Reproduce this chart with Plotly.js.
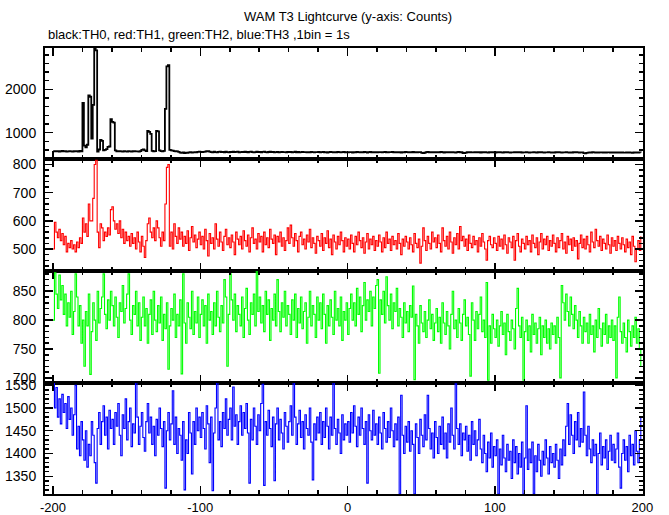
<!DOCTYPE html>
<html>
<head>
<meta charset="utf-8">
<script src="https://cdn.plot.ly/plotly-3.0.1.min.js"></script>
<style>html,body{margin:0;padding:0;background:#fff;}#chart{width:669px;height:515px;}</style>
</head>
<body>
<div id="chart"></div>
<script>
// Light-curve bins: start time (s) and bin width (1 bin = 1 s)
const T_START = -200;
const BIN_WIDTH = 1;

// TH0 (black) counts per bin
const TH0 = [
566,572,568,575,563,570,578,566,571,560,568,575,569,562,573,567,571,564,577,569,
1690,700,660,720,1860,1830,860,1640,2950,2900,560,610,830,810,590,600,620,670,680,1310,
1250,1230,590,570,565,575,568,562,570,566,560,572,568,564,570,575,566,569,563,571,
600,610,590,575,1040,1020,970,580,570,575,1040,1030,590,575,570,580,1550,2530,2560,600,
590,585,575,570,565,555,540,535,545,530,540,535,545,550,540,545,550,545,555,560,
555,548,556,562,570,575,560,552,546,558,550,543,555,561,549,553,547,558,552,545,
556,550,562,548,554,559,545,551,557,549,560,553,546,555,561,550,544,552,558,549,
553,547,556,562,550,545,553,559,548,554,546,551,557,543,550,555,548,552,546,554,
549,556,545,551,558,547,553,542,550,555,548,552,544,551,547,556,549,543,552,548,
554,546,551,557,545,550,541,548,555,549,544,552,547,556,550,543,549,553,546,551,
545,552,548,540,551,547,555,549,543,550,546,553,548,541,549,555,547,551,544,550,
546,552,548,543,550,556,547,542,551,548,553,545,549,544,552,547,541,550,546,553,
548,543,551,547,554,546,550,544,549,552,532,528,535,548,553,546,550,544,551,547,
543,550,546,553,548,541,549,545,552,547,543,550,546,540,548,553,545,549,530,528,
536,548,544,551,546,542,549,545,552,547,541,548,544,550,545,540,547,543,549,545,
541,548,544,550,546,539,547,543,549,545,540,546,542,548,544,550,543,547,541,546,
542,548,544,539,546,542,548,545,540,547,543,549,544,540,546,542,548,543,539,545,
541,547,543,548,544,540,546,542,547,543,539,545,541,547,543,548,544,540,546,542,
528,524,532,540,545,541,547,543,539,545,541,546,542,538,544,540,546,542,537,543,
539,545,541,536,543,539,545,540,536,542,538,544,540,535,541,537,543,539,545,541
];

// TH1 (red)
const TH1 = [
500,595,560,540,570,530,555,515,545,490,520,505,530,500,515,490,525,505,540,520,
610,560,590,545,660,600,600,680,800,815,560,505,590,575,530,560,545,575,550,640,
650,600,570,590,555,600,540,570,520,560,530,545,510,555,520,540,500,560,525,490,
545,510,470,530,590,610,560,540,575,530,600,575,540,510,560,530,660,790,800,510,
560,500,590,545,520,575,535,560,510,545,520,565,495,540,580,525,550,505,535,560,
515,545,500,570,530,475,555,520,540,500,590,535,510,560,525,495,545,570,515,540,
505,550,525,480,560,535,515,545,500,565,530,510,550,490,540,575,520,535,500,555,
525,545,490,560,515,540,505,570,535,520,550,480,545,525,560,510,540,495,530,575,
520,585,540,510,555,530,490,545,560,515,535,500,550,525,570,505,540,520,485,545,
530,510,555,495,540,520,565,505,535,480,550,525,500,545,515,560,530,490,540,510,
535,500,550,520,490,545,515,560,530,505,540,485,525,555,500,535,515,545,495,530,
510,550,525,490,540,505,560,520,535,495,545,515,530,500,555,520,480,535,510,545,
525,500,540,515,490,555,520,505,535,450,510,575,530,495,545,520,500,560,525,540,
505,550,520,490,575,530,510,545,500,560,525,485,540,515,555,500,580,530,545,510,
535,495,550,520,505,545,515,530,490,540,510,555,525,500,460,530,545,515,505,540,
520,495,545,510,535,500,550,515,485,540,525,505,545,460,530,555,510,490,535,520,
500,545,515,530,490,550,520,505,540,480,525,555,500,535,515,545,495,530,510,550,
520,490,540,505,530,555,500,525,485,545,515,535,495,540,510,530,465,520,550,505,
535,500,545,515,490,560,525,505,570,530,510,545,495,535,520,500,550,515,485,540,
510,530,495,545,520,500,540,515,490,535,505,525,480,545,510,455,500,530,495,545
];

// TH2 (green)
const TH2 = [
800,882,845,820,878,835,860,810,845,790,830,805,850,775,815,880,840,790,825,760,
800,720,815,790,845,706,780,830,800,765,850,795,820,840,880,810,785,835,800,850,
825,790,840,805,770,830,815,860,795,820,845,880,800,775,825,810,850,790,830,765,
805,840,790,820,760,810,835,775,850,800,780,825,795,840,765,810,785,830,715,790,
820,800,845,770,810,790,835,707,880,795,760,830,805,785,850,775,815,795,840,770,
810,835,790,825,760,845,800,815,775,830,790,850,805,780,825,795,870,840,720,810,
880,835,800,845,780,825,810,790,840,770,820,855,800,775,830,810,845,790,886,815,
840,795,825,780,850,810,835,765,820,800,845,790,870,815,780,830,805,850,790,825,
810,775,835,800,845,770,820,795,840,785,815,830,760,805,850,790,825,810,770,840,
800,830,785,845,810,760,825,790,835,805,775,850,800,820,790,840,765,815,800,830,
775,820,845,800,830,790,855,810,840,780,825,865,800,835,815,850,790,840,820,860,
870,708,835,810,850,795,875,825,800,845,785,830,815,855,790,820,805,770,830,795,
815,780,825,805,859,697,810,790,760,825,795,780,815,770,800,835,785,810,765,795,
820,780,805,760,830,795,775,815,790,750,810,850,785,800,770,820,795,765,810,835,
790,805,775,703,830,800,765,815,785,810,840,780,800,770,865,696,790,760,810,785,
770,800,755,790,815,775,795,740,810,780,765,800,785,750,820,855,790,770,805,696,
780,800,765,790,745,810,775,795,760,785,805,740,790,770,800,760,785,750,795,775,
790,760,805,770,700,860,830,800,845,815,790,840,810,785,825,800,770,815,790,760,
805,780,795,760,810,775,790,745,800,770,820,785,755,795,775,810,760,790,770,800,
765,790,700,805,840,780,760,795,770,745,800,780,755,790,770,805,760,785,750,720
];

// TH3 (blue)
const TH3 = [
1557,1500,1545,1480,1520,1465,1530,1490,1510,1455,1525,1475,1500,1440,1485,1550,1410,1460,1395,1470,
1430,1385,1450,1370,1420,1395,1470,1440,1380,1335,1455,1490,1420,1470,1505,1440,1480,1410,1495,1455,
1475,1420,1490,1460,1510,1440,1395,1485,1455,1520,1430,1470,1500,1415,1465,1445,1557,1480,1420,1460,
1490,1435,1405,1470,1510,1445,1480,1420,1460,1395,1475,1440,1500,1455,1415,1470,1324,1450,1490,1430,
1465,1538,1420,1480,1400,1455,1440,1385,1470,1320,1430,1400,1490,1445,1355,1470,1420,1500,1450,1480,
1435,1490,1455,1410,1505,1465,1380,1480,1318,1445,1500,1557,1430,1470,1415,1490,1455,1520,1440,1475,
1500,1430,1546,1460,1485,1420,1470,1505,1440,1490,1455,1510,1445,1335,1475,1430,1500,1460,1420,1485,
1450,1510,1552,1330,1470,1440,1495,1455,1415,1480,1340,1465,1500,1430,1475,1445,1410,1490,1460,1425,
1470,1505,1440,1557,1480,1420,1465,1495,1435,1470,1410,1485,1455,1440,1500,1425,1342,1465,1430,1480,
1445,1490,1420,1470,1435,1500,1460,1410,1480,1440,1557,1455,1420,1475,1445,1400,1485,1430,1465,1440,
1470,1425,1490,1445,1505,1460,1415,1480,1440,1500,1455,1420,1470,1335,1485,1450,1430,1495,1440,1465,
1420,1480,1445,1410,1490,1455,1425,1470,1435,1500,1450,1415,1465,1430,1480,1311,1528,1440,1400,1460,
1425,1470,1405,1450,1420,1311,1465,1435,1400,1475,1440,1415,1485,1430,1528,1455,1410,1445,1390,1470,
1435,1400,1460,1420,1480,1410,1445,1390,1465,1425,1500,1440,1410,1553,1455,1420,1465,1395,1445,1430,
1460,1405,1440,1385,1470,1420,1450,1395,1430,1475,1410,1380,1440,1400,1360,1425,1390,1445,1370,1415,
1395,1430,1311,1410,1375,1440,1390,1360,1420,1385,1405,1345,1430,1380,1415,1355,1400,1370,1425,1311,
1390,1505,1365,1410,1380,1425,1311,1395,1360,1420,1385,1350,1405,1375,1430,1390,1355,1415,1380,1400,
1370,1420,1385,1345,1410,1375,1430,1395,1460,1510,1420,1485,1440,1400,1470,1430,1490,1415,1455,1425,
1535,1440,1395,1460,1410,1380,1430,1395,1420,1311,1400,1445,1375,1415,1390,1430,1365,1405,1440,1385,
1420,1380,1410,1445,1370,1324,1400,1430,1385,1415,1360,1440,1395,1420,1375,1450,1405,1380,1430,1478
];

const SERIES = [
  {name:'TH0', values:TH0, color:'#000000', yrange:[400, 2956], dtick:1000, minor:200},
  {name:'TH1', values:TH1, color:'#ff0000', yrange:[422, 821], dtick:100, minor:20},
  {name:'TH2', values:TH2, color:'#00ff00', yrange:[692, 885], dtick:50, minor:10},
  {name:'TH3', values:TH3, color:'#0000ff', yrange:[1311, 1556], dtick:50, minor:10}
];
const TITLE = 'WAM T3 Lightcurve (y-axis: Counts)';
const SUBTITLE = 'black:TH0, red:TH1, green:TH2, blue:TH3 ,1bin = 1s';
const X_TICKS = [-200, -100, 0, 100, 200];

const times = TH0.map((_, i) => T_START + i * BIN_WIDTH);
const domains = [[0.752, 1], [0.5, 0.752], [0.25, 0.5], [0, 0.25]];
const FONT = 'Liberation Sans, Arial, Helvetica, sans-serif';

const traces = [];
const layout = {
  width: 669, height: 515,
  margin: {l: 45, r: 26, t: 48, b: 21},
  paper_bgcolor: '#fff', plot_bgcolor: '#fff',
  showlegend: false,
  font: {family: FONT, size: 14, color: '#000'},
  annotations: [
    {text: TITLE, xref: 'paper', yref: 'paper', x: 0.506, y: 1.07, xanchor: 'center', yanchor: 'middle', showarrow: false, font: {size: 13, family: FONT, color: '#000'}},
    {text: SUBTITLE, xref: 'paper', yref: 'paper', x: 0.002, y: 1.03, xanchor: 'left', yanchor: 'middle', showarrow: false, font: {size: 13, family: FONT, color: '#000'}}
  ]
};

SERIES.forEach((s, k) => {
  const n = k + 1;
  const xa = n === 1 ? 'x' : 'x' + n;
  const ya = n === 1 ? 'y' : 'y' + n;
  traces.push({
    x: times, y: s.values, xaxis: xa, yaxis: ya,
    type: 'scatter', mode: 'lines',
    line: {shape: 'hv', color: s.color, width: k === 0 ? 1.8 : 1.1},
    hoverinfo: 'skip'
  });
  const xkey = n === 1 ? 'xaxis' : 'xaxis' + n;
  const ykey = n === 1 ? 'yaxis' : 'yaxis' + n;
  layout[xkey] = {
    anchor: ya, domain: [0, 1], range: [-205.4, 200.5],
    tickvals: X_TICKS, ticktext: X_TICKS.map(String),
    showticklabels: k === 3,
    ticks: 'inside', ticklen: 8, tickwidth: 1.5, tickcolor: '#000',
    minor: {dtick: 20, tick0: 0, ticks: 'inside', ticklen: 4, tickwidth: 1.5, tickcolor: '#000', showgrid: false},
    showline: true, linewidth: 2, linecolor: '#000', mirror: 'ticks',
    showgrid: false, zeroline: false,
    tickfont: {family: FONT, size: 13, color: '#000'}
  };
  if (n !== 1) layout[xkey].matches = 'x';
  layout[ykey] = {
    anchor: xa, domain: domains[k], range: s.yrange,
    dtick: s.dtick, tick0: 0,
    ticks: 'inside', ticklen: 8, tickwidth: 1.5, tickcolor: '#000',
    minor: {dtick: s.minor, tick0: 0, ticks: 'inside', ticklen: 4, tickwidth: 1.5, tickcolor: '#000', showgrid: false},
    showline: true, linewidth: 2, linecolor: '#000', mirror: 'ticks',
    showgrid: false, zeroline: false,
    ticklabelstandoff: 4,
    tickfont: {family: FONT, size: 14, color: '#000'},
    separatethousands: false, tickformat: 'd'
  };
});

Plotly.newPlot('chart', traces, layout, {displayModeBar: false, staticPlot: true});
</script>
</body>
</html>
